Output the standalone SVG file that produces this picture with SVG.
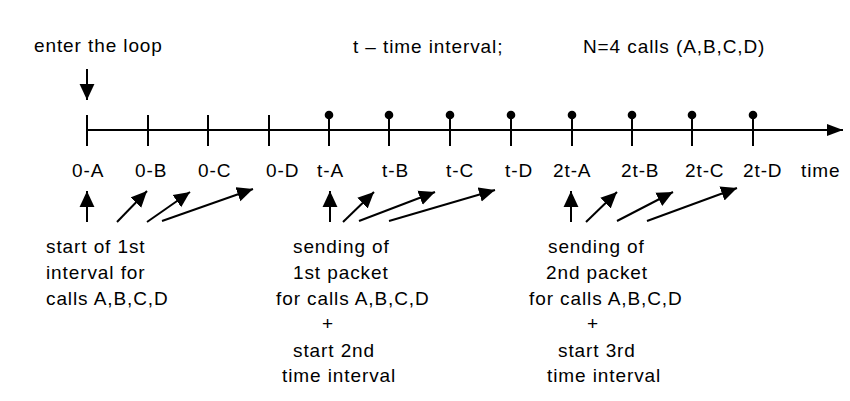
<svg xmlns="http://www.w3.org/2000/svg" width="850" height="401" viewBox="0 0 850 401">
  <defs>
    <style>
      text { font-family: "Liberation Sans", Arial, sans-serif; font-size: 19px; letter-spacing: 0.9px; fill: #000; }
      .ln { stroke: #000; stroke-width: 2; fill: none; }
      .arr { stroke: #000; stroke-width: 2; fill: none; marker-end: url(#head); }
      .dot { fill: #000; }
    </style>
    <marker id="head" markerUnits="userSpaceOnUse" markerWidth="16" markerHeight="16" viewBox="0 0 14 14" refX="14" refY="7" orient="auto">
      <path d="M0,0.5 L14,7 L0,13.5 Z" fill="#000"/>
    </marker>
    <marker id="axishead" markerUnits="userSpaceOnUse" markerWidth="16" markerHeight="14" viewBox="0 0 16 14" refX="16" refY="7" orient="auto">
      <path d="M0,1 L16,7 L0,13 Z" fill="#000"/>
    </marker>
  </defs>

  <!-- header texts -->
  <g id="header">
    <text x="34" y="52">enter the loop</text>
    <text x="353" y="53">t – time interval;</text>
    <text x="583" y="53">N=4 calls (A,B,C,D)</text>
  </g>

  <!-- time axis with tick marks -->
  <g id="axis">
    <line class="ln" x1="87" y1="130" x2="843" y2="130" marker-end="url(#axishead)"/>
    <line class="ln" x1="87" y1="115" x2="87" y2="146"/>
    <line class="ln" x1="148" y1="115" x2="148" y2="146"/>
    <line class="ln" x1="208" y1="115" x2="208" y2="146"/>
    <line class="ln" x1="269" y1="115" x2="269" y2="146"/>
  </g>

  <!-- packet send points -->
  <g id="packets">
    <g id="p-tA"><line class="ln" x1="329" y1="115" x2="329" y2="146"/><circle class="dot" cx="329" cy="115" r="4.3"/></g>
    <g id="p-tB"><line class="ln" x1="389" y1="115" x2="389" y2="146"/><circle class="dot" cx="389" cy="115" r="4.3"/></g>
    <g id="p-tC"><line class="ln" x1="450" y1="115" x2="450" y2="146"/><circle class="dot" cx="450" cy="115" r="4.3"/></g>
    <g id="p-tD"><line class="ln" x1="511" y1="115" x2="511" y2="146"/><circle class="dot" cx="511" cy="115" r="4.3"/></g>
    <g id="p-2tA"><line class="ln" x1="572" y1="115" x2="572" y2="146"/><circle class="dot" cx="572" cy="115" r="4.3"/></g>
    <g id="p-2tB"><line class="ln" x1="632" y1="115" x2="632" y2="146"/><circle class="dot" cx="632" cy="115" r="4.3"/></g>
    <g id="p-2tC"><line class="ln" x1="692" y1="115" x2="692" y2="146"/><circle class="dot" cx="692" cy="115" r="4.3"/></g>
    <g id="p-2tD"><line class="ln" x1="753" y1="115" x2="753" y2="146"/><circle class="dot" cx="753" cy="115" r="4.3"/></g>
  </g>

  <!-- tick labels -->
  <g id="tick-labels">
    <text x="72" y="177">0-A</text>
    <text x="135" y="177">0-B</text>
    <text x="198" y="177">0-C</text>
    <text x="266" y="177">0-D</text>
    <text x="317" y="177">t-A</text>
    <text x="382" y="177">t-B</text>
    <text x="446" y="177">t-C</text>
    <text x="505" y="177">t-D</text>
    <text x="553" y="177">2t-A</text>
    <text x="621" y="177">2t-B</text>
    <text x="685" y="177">2t-C</text>
    <text x="743" y="177">2t-D</text>
    <text x="801" y="177">time</text>
  </g>

  <!-- connectors -->
  <g id="connectors">
    <line class="arr" x1="87" y1="69" x2="87" y2="100"/>

    <line class="arr" x1="87" y1="222" x2="87" y2="191"/>
    <line class="arr" x1="117" y1="222" x2="147" y2="191"/>
    <line class="arr" x1="147" y1="222" x2="190" y2="192"/>
    <line class="arr" x1="162" y1="221" x2="253" y2="189"/>

    <line class="arr" x1="330" y1="222" x2="330" y2="191"/>
    <line class="arr" x1="343" y1="222" x2="374" y2="192"/>
    <line class="arr" x1="359" y1="221" x2="435" y2="192"/>
    <line class="arr" x1="389" y1="221" x2="495" y2="190"/>

    <line class="arr" x1="571" y1="222" x2="571" y2="191"/>
    <line class="arr" x1="586" y1="222" x2="617" y2="192"/>
    <line class="arr" x1="617" y1="221" x2="673" y2="192"/>
    <line class="arr" x1="647" y1="221" x2="737" y2="188"/>
  </g>

  <!-- notes under the axis -->
  <g id="note-start">
    <text x="46" y="253">start of 1st</text>
    <text x="46" y="279">interval for</text>
    <text x="46" y="305">calls A,B,C,D</text>
  </g>
  <g id="note-first-packet">
    <text x="293" y="253">sending of</text>
    <text x="293" y="279">1st packet</text>
    <text x="276" y="305">for calls A,B,C,D</text>
    <text x="322" y="330">+</text>
    <text x="293" y="357">start 2nd</text>
    <text x="282" y="382">time interval</text>
  </g>
  <g id="note-second-packet">
    <text x="548" y="253">sending of</text>
    <text x="546" y="279">2nd packet</text>
    <text x="529" y="305">for calls A,B,C,D</text>
    <text x="587" y="330">+</text>
    <text x="558" y="357">start 3rd</text>
    <text x="547" y="382">time interval</text>
  </g>
</svg>
